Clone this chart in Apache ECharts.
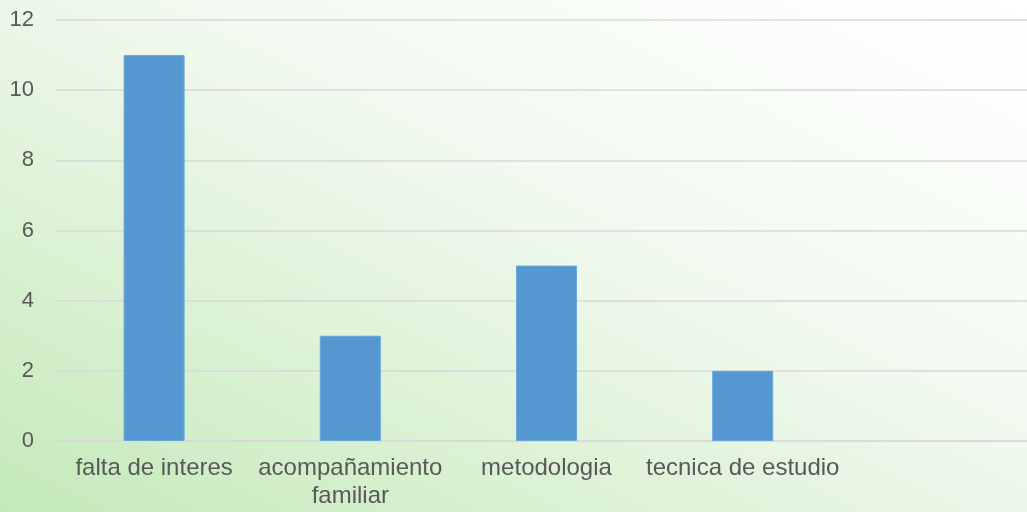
<!DOCTYPE html>
<html>
<head>
<meta charset="utf-8">
<script src="https://cdn.jsdelivr.net/npm/echarts@6/dist/echarts.min.js"></script>
<style>
  html, body { margin: 0; padding: 0; overflow: hidden; }
  #wrap {
    width: 1027px; height: 512px; overflow: hidden;
    background: linear-gradient(to top right, #c4e9b9 0%, #dcf2d5 30%, #f3faf1 60%, #ffffff 100%);
  }
  /* el eje sigue un poco mas alla del borde derecho, como en el original */
  #main { width: 1037px; height: 512px; }
</style>
</head>
<body>
<div id="wrap"><div id="main"></div></div>
<script>
  // datos del grafico
  var categorias = ['falta de interes', 'acompañamiento\nfamiliar', 'metodologia', 'tecnica de estudio', ''];
  var valores = [11, 3, 5, 2, null];
  var ticksY = [0, 2, 4, 6, 8, 10, 12];

  var myChart = echarts.init(document.getElementById('main'));

  var option = {
    backgroundColor: 'transparent',
    animation: false,
    grid: {
      left: 56,
      right: 0,
      top: 20,
      bottom: 71
    },
    xAxis: {
      type: 'category',
      data: categorias,
      axisTick: { show: false },
      axisLine: { lineStyle: { color: '#d9d9d9', width: 1.5 } },
      axisLabel: {
        interval: 0,
        margin: 13,
        fontFamily: 'Liberation Sans',
        fontSize: 24,
        lineHeight: 28,
        color: '#595959'
      }
    },
    yAxis: {
      type: 'value',
      min: ticksY[0],
      max: ticksY[ticksY.length - 1],
      interval: 2,
      axisLine: { show: false },
      axisTick: { show: false },
      splitLine: { lineStyle: { color: '#d9d9d9', width: 1.5 } },
      axisLabel: {
        margin: 22,
        fontFamily: 'Liberation Sans',
        fontSize: 22,
        color: '#595959'
      }
    },
    series: [
      {
        type: 'bar',
        data: valores,
        barWidth: 61,
        itemStyle: {
          color: '#5597d0',
          borderColor: '#6aa6da',
          borderWidth: 1
        }
      }
    ]
  };

  myChart.setOption(option);
</script>
</body>
</html>
